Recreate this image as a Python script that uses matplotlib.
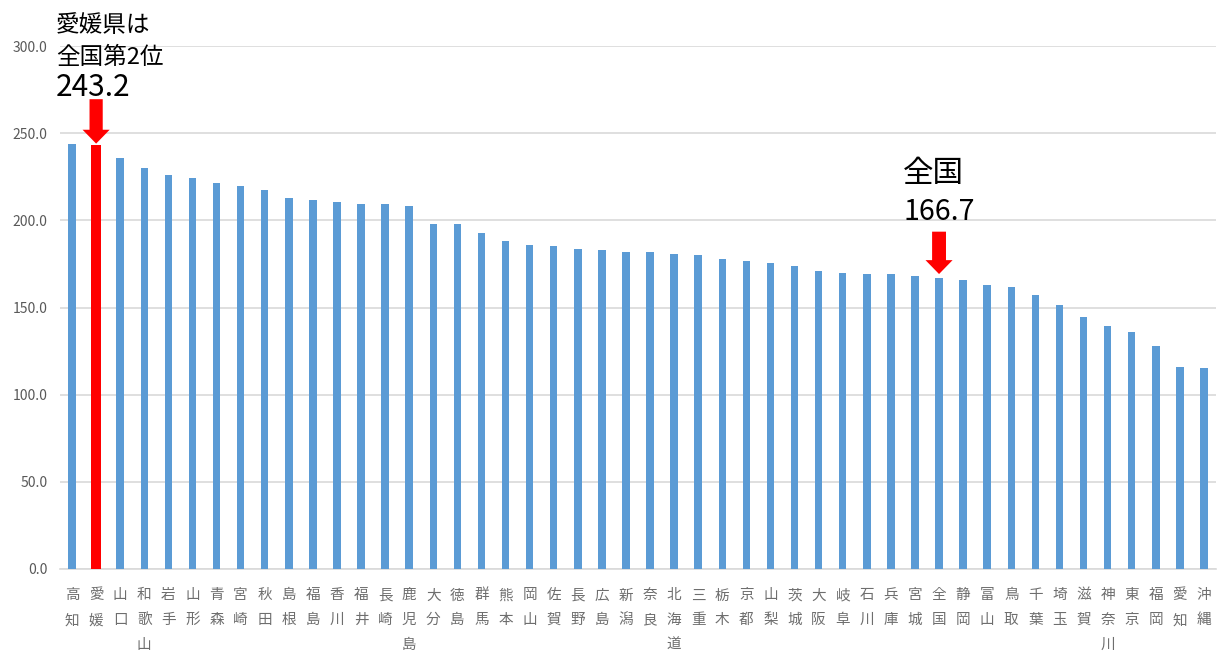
import matplotlib
matplotlib.use("Agg")
import matplotlib.pyplot as plt

plt.rcParams['font.family'] = ['Noto Sans CJK JP', 'DejaVu Sans']

prefectures = ["高知", "愛媛", "山口", "和歌山", "岩手", "山形", "青森", "宮崎", "秋田", "島根",
               "福島", "香川", "福井", "長崎", "鹿児島", "大分", "徳島", "群馬", "熊本", "岡山",
               "佐賀", "長野", "広島", "新潟", "奈良", "北海道", "三重", "栃木", "京都", "山梨",
               "茨城", "大阪", "岐阜", "石川", "兵庫", "宮城", "全国", "静岡", "富山", "鳥取",
               "千葉", "埼玉", "滋賀", "神奈川", "東京", "福岡", "愛知", "沖縄"]
values = [243.6, 243.2, 235.7, 230.3, 226.0, 224.5, 221.3, 219.7, 217.4, 212.7,
          211.7, 210.7, 209.3, 209.3, 208.3, 197.8, 197.8, 192.6, 188.1, 185.7,
          185.3, 183.4, 182.9, 181.8, 181.8, 180.9, 180.0, 177.7, 176.7, 175.5,
          173.8, 170.9, 170.0, 169.5, 169.1, 168.1, 166.7, 166.0, 163.1, 161.8,
          157.0, 151.3, 144.6, 139.2, 135.8, 128.1, 116.1, 115.1]
highlight = "愛媛"
national = "全国"
ehime_value = 243.2
national_value = 166.7
yticks = [0, 50, 100, 150, 200, 250, 300]

W, H = 1223, 652
fig = plt.figure(figsize=(W / 100, H / 100), dpi=100)
ax = fig.add_axes([60 / W, 1 - 569 / H, (1216 - 60) / W, (569 - 46) / H])

blue = "#5B9BD5"
red = "#FF0000"
xs = list(range(len(prefectures)))
for x, name, v in zip(xs, prefectures, values):
    if name == highlight:
        ax.bar(x, v, width=0.40, color=red, zorder=3)
    else:
        ax.bar(x, v, width=0.31, color=blue, zorder=3)

ax.set_xlim(-0.5, len(prefectures) - 0.5)
ax.set_ylim(0, 300)
ax.set_yticks(yticks)
ax.set_yticklabels([f"{t:.1f}" for t in yticks], color="#595959", fontsize=10)
ax.yaxis.grid(True, color="#D9D9D9", linewidth=1.2, zorder=0)
ax.set_axisbelow(True)
ax.tick_params(axis="y", length=0, pad=9)
ax.tick_params(axis="x", length=0, pad=14)
ax.set_xticks(xs)
ax.set_xticklabels(["\n".join(n) for n in prefectures], color="#6E6E6E", fontsize=10.5,
                   linespacing=1.98)
for s in ["left", "right", "top"]:
    ax.spines[s].set_visible(False)
ax.spines["bottom"].set_color("#D9D9D9")
ax.spines["bottom"].set_linewidth(1.2)

# Arrows
ie = prefectures.index(highlight)
ax.annotate("", xy=(ie, ehime_value + 0.8), xytext=(0, 32), textcoords="offset points",
            arrowprops=dict(arrowstyle="simple,head_length=1.0,head_width=1.95,tail_width=0.95",
                            mutation_scale=10, color=red, shrinkA=0, shrinkB=0, lw=0))
inat = prefectures.index(national)
ax.annotate("", xy=(inat, national_value + 2.5), xytext=(0, 30.5), textcoords="offset points",
            arrowprops=dict(arrowstyle="simple,head_length=1.0,head_width=1.95,tail_width=1.0",
                            mutation_scale=10, color=red, shrinkA=0, shrinkB=0, lw=0))

# Annotation texts
def ftext(x, y, s, size):
    fig.text(x / W, 1 - y / H, s, fontsize=size, ha="left", va="center", color="black")

ftext(56, 25, "愛媛県は", 17)
ftext(56, 57, "全国第2位", 17)
ftext(56, 88, f"{ehime_value:.1f}", 21.5)
ftext(903, 173, "全国", 22)
ftext(903, 212, f"{national_value:.1f}", 20.5)

fig.savefig("out.png", dpi=100)
